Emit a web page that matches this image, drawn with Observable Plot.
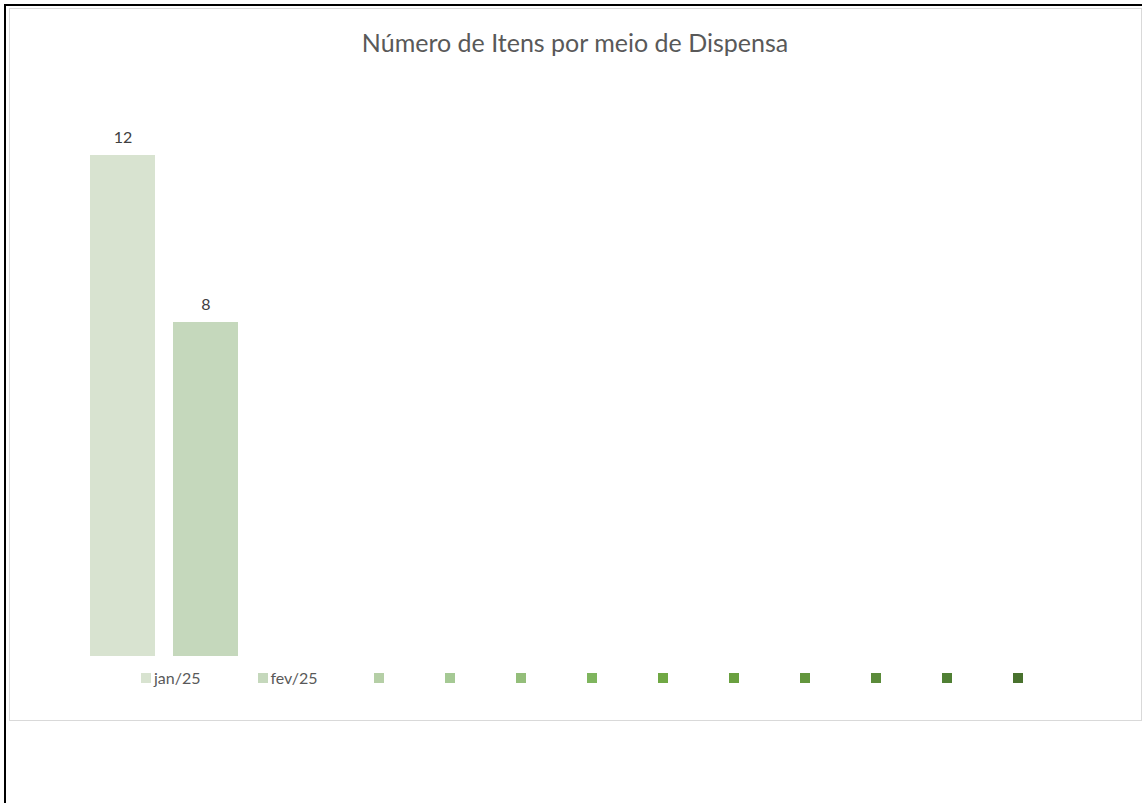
<!DOCTYPE html>
<html>
<head>
<meta charset="utf-8">
<script src="https://cdn.jsdelivr.net/npm/d3@7"></script>
<script src="https://cdn.jsdelivr.net/npm/@observablehq/plot@0.6"></script>
<style>
  html, body { margin: 0; padding: 0; background: #fff; }
  #page { position: relative; width: 1142px; height: 803px; overflow: hidden; font-family: Lato, "Open Sans", sans-serif; }
  #outer { position: absolute; left: 4px; top: 4px; right: -10px; bottom: -10px; border-top: 2px solid #000; border-left: 2px solid #000; }
  #box { position: absolute; left: 9px; top: 8px; width: 1133px; height: 713px; border: 1px solid #d9d9d9; box-sizing: border-box; }
  #title { position: absolute; left: 0; width: 1150px; top: 26px; text-align: center; font-size: 25px; color: #595959; line-height: 32px; }
  #chart { position: absolute; left: 0; top: 0; }
  #legend { position: absolute; left: 141px; top: 669px; display: flex; align-items: center; font-size: 16px; color: #595959; line-height: 18px; }
  .item { display: flex; align-items: center; }
  .sw { width: 10px; height: 10px; margin-right: 3px; flex: none; }
</style>
</head>
<body>
<div id="page">
  <div id="outer"></div>
  <div id="box"></div>
  <div id="title"></div>
  <div id="chart"></div>
  <div id="legend"></div>
</div>
<script>
const title = "Número de Itens por meio de Dispensa";
const seriesNames = ["jan/25", "fev/25", "", "", "", "", "", "", "", "", "", ""];
const seriesValues = [12, 8, null, null, null, null, null, null, null, null, null, null];
const seriesColors = ["#d8e3d0", "#c5d8bc", "#b5cfa6", "#a5c994", "#94be7a", "#7fb55e",
                      "#70a844", "#6aa040", "#63963d", "#5b8b3a", "#508034", "#49722e"];
const yMax = 14;

const data = seriesNames.map((name, i) => ({key: i, name, value: seriesValues[i], color: seriesColors[i]}));
const bars = data.filter(d => d.value != null);

document.getElementById("title").textContent = title;

const plot = Plot.plot({
  width: 1142,
  height: 803,
  marginTop: 71.5,
  marginBottom: 147,
  marginLeft: 0,
  marginRight: 0,
  style: {background: "transparent", overflow: "visible"},
  x: {type: "band", domain: data.map(d => d.key), range: [90, 1068], paddingInner: 18 / 83, paddingOuter: 0, axis: null},
  y: {domain: [0, yMax], axis: null},
  marks: [
    Plot.barY(bars, {x: "key", y: "value", fill: "color"}),
    Plot.text(bars, {x: "key", y: "value", text: d => String(d.value), dy: -18, fill: "#404040", fontSize: 16, fontFamily: "Lato, 'Open Sans', sans-serif"})
  ]
});
document.getElementById("chart").appendChild(plot);

const legend = document.getElementById("legend");
data.forEach(d => {
  const it = document.createElement("div");
  it.className = "item";
  it.style.width = d.name ? "116.5px" : "71px";
  const sw = document.createElement("div");
  sw.className = "sw";
  sw.style.background = d.color;
  it.appendChild(sw);
  const lab = document.createElement("span");
  lab.textContent = d.name;
  it.appendChild(lab);
  legend.appendChild(it);
});
</script>
</body>
</html>
